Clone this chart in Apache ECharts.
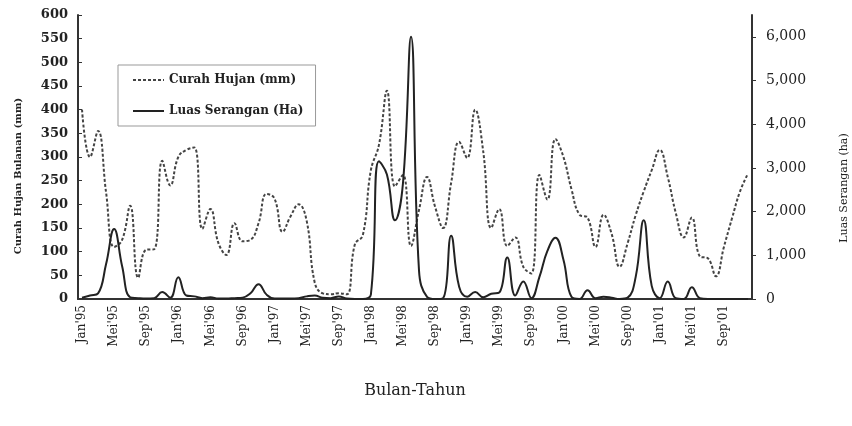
<!DOCTYPE html>
<html>
<head>
<meta charset="utf-8">
<script src="https://cdn.jsdelivr.net/npm/echarts@6/dist/echarts.min.js"></script>
<style>
  html, body { margin: 0; padding: 0; background: #fff; }
  #chart { width: 852px; height: 426px; }
</style>
</head>
<body>
<div id="chart"></div>
<script>
// Monthly rainfall vs. attacked area, Jan'95 - Des'01
const months = ['Jan', 'Feb', 'Mar', 'Apr', 'Mei', 'Jun', 'Jul', 'Agu', 'Sep', 'Okt', 'Nov', 'Des'];
const years = ['95', '96', '97', '98', '99', '00', '01'];

// Curah hujan bulanan (mm), left axis
const rainfall = [
  400, 300, 355, 225, 110, 125, 197, 45, 104, 105, 292, 240,
  300, 315, 320, 148, 190, 118, 93, 160, 122, 125, 160, 222,
  212, 142, 175, 200, 165, 35, 12, 10, 12, 10, 115, 135,
  272, 325, 440, 238, 262, 112, 188, 258, 195, 150, 245, 332,
  298, 400, 312, 150, 190, 112, 130, 68, 54, 262, 210, 338,
  300, 232, 178, 172, 110, 178, 138, 68, 118, 177, 227, 272,
  315, 258, 182, 130, 172, 90, 86, 48, 110, 170, 227, 265
];

// Luas serangan (ha), right axis
const attackArea = [
  30, 80, 130, 800, 1600, 750, 40, 20, 10, 20, 160, 30,
  500, 80, 60, 20, 40, 10, 10, 20, 30, 130, 340, 100,
  10, 10, 10, 20, 60, 80, 30, 20, 60, 10, 0, 0,
  100, 3150, 2850, 1800, 2650, 6000, 650, 50, 0, 20, 1450, 280,
  50, 160, 40, 120, 150, 950, 80, 400, 20, 500, 1100, 1400,
  900, 50, 0, 200, 20, 50, 30, 0, 30, 500, 1800, 300,
  20, 400, 20, 0, 270, 20, 0, 0, 0, 0, 0, 0
];

const rightTicks = [0, 1000, 2000, 3000, 4000, 5000, 6000];

const categories = [];
years.forEach(y => months.forEach(m => categories.push(m + "'" + y)));

const serif = 'DejaVu Serif';
const chart = echarts.init(document.getElementById('chart'));

chart.setOption({
  backgroundColor: '#fff',
  animation: false,
  grid: { left: 78, right: 100, top: 15, bottom: 127 },
  legend: {
    orient: 'vertical',
    left: 118,
    top: 65,
    padding: [9, 12, 9, 14],
    itemGap: 19,
    itemWidth: 31,
    itemHeight: 10,
    borderColor: '#999',
    borderWidth: 1,
    itemStyle: { opacity: 0 },
    textStyle: { fontFamily: serif, fontWeight: 'bold', fontSize: 12, color: '#222' },
    data: ['Curah Hujan (mm)', 'Luas Serangan (Ha)']
  },
  xAxis: {
    type: 'category',
    data: categories,
    boundaryGap: true,
    name: 'Bulan-Tahun',
    nameLocation: 'middle',
    nameGap: 84,
    nameTextStyle: { fontFamily: serif, fontSize: 16, color: '#222' },
    axisLine: { lineStyle: { color: '#333', width: 2 } },
    axisTick: { interval: 3, length: 4, lineStyle: { color: '#333' } },
    axisLabel: { interval: 3, rotate: 90, margin: 6, fontFamily: serif, fontSize: 12, color: '#222' }
  },
  yAxis: [
    {
      type: 'value',
      min: 0,
      max: 600,
      interval: 50,
      splitLine: { show: false },
      axisLine: { show: true, lineStyle: { color: '#333', width: 2 } },
      axisTick: { show: true, inside: true, length: 4, lineStyle: { color: '#333' } },
      axisLabel: { margin: 10, fontFamily: serif, fontWeight: 'bold', fontSize: 13, color: '#222' }
    },
    {
      type: 'value',
      position: 'right',
      min: 0,
      max: 6500,
      interval: 1000,
      splitLine: { show: false },
      axisLine: { show: true, lineStyle: { color: '#333', width: 2 } },
      axisTick: { show: true, length: 4, customValues: rightTicks, lineStyle: { color: '#333' } },
      axisLabel: {
        margin: 14,
        customValues: rightTicks,
        fontFamily: serif,
        fontSize: 14,
        color: '#222',
        formatter: v => v.toLocaleString('en-US')
      }
    }
  ],
  graphic: [
    {
      type: 'text',
      x: 18,
      y: 176,
      rotation: Math.PI / 2,
      style: {
        text: 'Curah Hujan Bulanan (mm)',
        fontFamily: serif,
        fontWeight: 'bold',
        fontSize: 10,
        fill: '#222',
        align: 'center',
        verticalAlign: 'middle'
      }
    },
    {
      type: 'text',
      x: 844,
      y: 188,
      rotation: Math.PI / 2,
      style: {
        text: 'Luas Serangan (ha)',
        fontFamily: serif,
        fontSize: 11,
        fill: '#222',
        align: 'center',
        verticalAlign: 'middle'
      }
    }
  ],
  series: [
    {
      name: 'Curah Hujan (mm)',
      type: 'line',
      yAxisIndex: 0,
      data: rainfall,
      smooth: 0.45,
      symbol: 'none',
      itemStyle: { color: '#444' },
      lineStyle: { color: '#444', width: 2, type: [3, 2] }
    },
    {
      name: 'Luas Serangan (Ha)',
      type: 'line',
      yAxisIndex: 1,
      data: attackArea,
      smooth: 0.45,
      symbol: 'none',
      itemStyle: { color: '#222' },
      lineStyle: { color: '#222', width: 2 }
    }
  ]
});
</script>
</body>
</html>
